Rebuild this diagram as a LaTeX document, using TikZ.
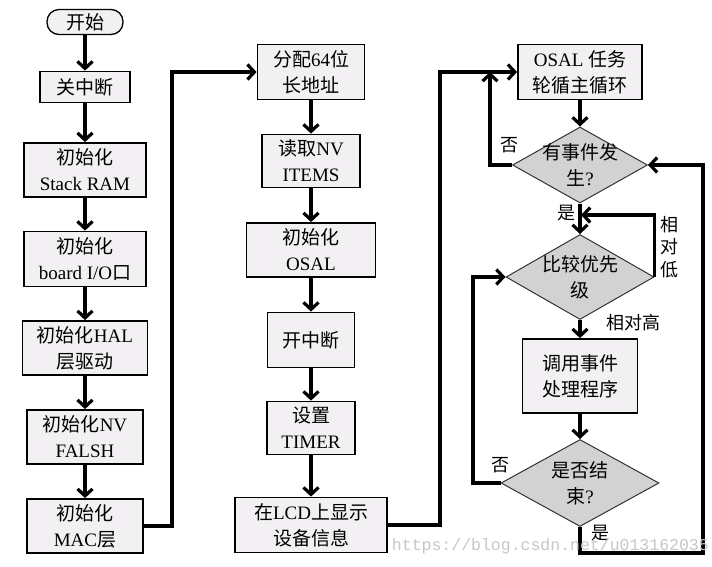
\documentclass[tikz,border=0pt]{standalone}
\usepackage{fontspec}
\setmainfont{Liberation Serif}
\setmonofont{Liberation Mono}
\newfontfamily\cjk{Noto Sans CJK SC}
\usetikzlibrary{arrows.meta,shapes.geometric}
\definecolor{boxfill}{RGB}{242,240,242}
\definecolor{dfill}{RGB}{210,210,210}
\newcommand{\zh}[1]{{\cjk #1}}
\tikzset{
	sz/.style 2 args={minimum width=#1pt, minimum height=#2pt},
	proc/.style={draw, fill=boxfill, line width=1.8pt, align=center, inner sep=0pt, font=\fontsize{19}{26}\selectfont},
	pill/.style={proc, line width=1.3pt, rounded corners=12pt},
	decide/.style={diamond, draw=black!80, fill=dfill, line width=1pt, inner sep=0pt},
	dtext/.style={align=center, inner sep=0pt, font=\fontsize{19}{26}\selectfont},
	flow/.style={line width=3.2pt, -{Straight Barb[length=7pt,width=15pt]}},
	lab/.style={inner sep=0pt, font=\fontsize{18}{22}\selectfont},
}
\begin{document}
\begin{tikzpicture}[x=1pt, y=-1pt]
	\useasboundingbox[fill=white] (0,0) rectangle (712,566);
	% left column
	\node[pill, sz={76}{25}] (start) at (85,22) {\zh{开始}};
	\node[proc, sz={90}{31}] (guan) at (85,87) {\zh{关中断}};
	\node[proc, sz={122}{54}] (stack) at (85,170) {\zh{初始化}\\Stack RAM};
	\node[proc, sz={122}{55}] (board) at (85,259) {\zh{初始化}\\board I/O\zh{口}};
	\node[proc, sz={125}{54}] (hal) at (85,348) {\zh{初始化}HAL\\\zh{层驱动}};
	\node[proc, sz={116}{54}] (nv) at (85,437) {\zh{初始化}NV\\FALSH};
	\node[proc, sz={116}{54}] (mac) at (85,526) {\zh{初始化}\\MAC\zh{层}};
	% middle column
	\node[proc, sz={107}{55}] (addr) at (311,72) {\zh{分配}64\zh{位}\\\zh{长地址}};
	\node[proc, sz={98}{53}] (items) at (311,161) {\zh{读取}NV\\ITEMS};
	\node[proc, sz={129}{54}] (osal) at (311,250) {\zh{初始化}\\OSAL};
	\node[proc, sz={87}{55}] (intr) at (311,340) {\zh{开中断}};
	\node[proc, sz={88}{53}] (timer) at (311,428) {\zh{设置}\\TIMER};
	\node[proc, sz={152}{55}] (lcd) at (311,525) {\zh{在}LCD\zh{上显示}\\\zh{设备信息}};
	% right column
	\node[proc, sz={124}{55}] (loop) at (580,72) {OSAL \zh{任务}\\\zh{轮循主循环}};
	\node[decide, sz={135}{76}] (evt) at (580,165) {};
	\node[dtext] (evt-t) at (evt) {\zh{有事件发}\\\zh{生}?};
	\node[decide, sz={148}{85}] (prio) at (580,277) {};
	\node[dtext] (prio-t) at (prio) {\zh{比较优先}\\\zh{级}};
	\node[proc, sz={115}{74}] (call) at (580,376) {\zh{调用事件}\\\zh{处理程序}};
	\node[decide, sz={158}{87}] (done) at (580,483) {};
	\node[dtext] (done-t) at (done) {\zh{是否结}\\\zh{束}?};
	% labels
	\node[lab] (no-a) at (509,145) {\zh{否}};
	\node[lab] (yes-a) at (566,213) {\zh{是}};
	\node[lab, align=center, font=\fontsize{18}{22.5}\selectfont] (low) at (669,247) {\zh{相}\\\zh{对}\\\zh{低}};
	\node[lab] (high) at (633,323) {\zh{相对高}};
	\node[lab] (no-b) at (500,465) {\zh{否}};
	\node[lab] (yes-b) at (600,533) {\zh{是}};
	% corners
	\coordinate (j1) at (172,72);
	\coordinate (j2) at (440,72);
	\coordinate (r1) at (490,72);
	\coordinate (r2) at (581,215);
	\coordinate (r3) at (473,483);
	\coordinate (r4) at (703,553);
	\foreach \a/\b in {start/guan,guan/stack,stack/board,board/hal,hal/nv,nv/mac,
		addr/items,items/osal,osal/intr,intr/timer,timer/lcd,loop/evt,evt/prio,prio/call,call/done}
		\draw[flow] (\a.south) -- (\b.north);
	\draw[flow] (mac.east) -| (j1) -- (addr.west);
	\draw[flow] (lcd.east) -| (j2) -- (loop.west);
	\draw[flow] (evt.west) -| (r1);
	\draw[flow] (prio.east) |- (r2);
	\draw[flow] (done.west) -| (r3) |- (prio.west);
	\draw[flow] (done.south) |- (r4) |- (evt.east);
	\node[anchor=east, inner sep=0pt, text=black!22, font=\ttfamily\fontsize{16.5}{17}\selectfont] (wm) at (709,546) {https://blog.csdn.net/u013162035};
\end{tikzpicture}
\end{document}
